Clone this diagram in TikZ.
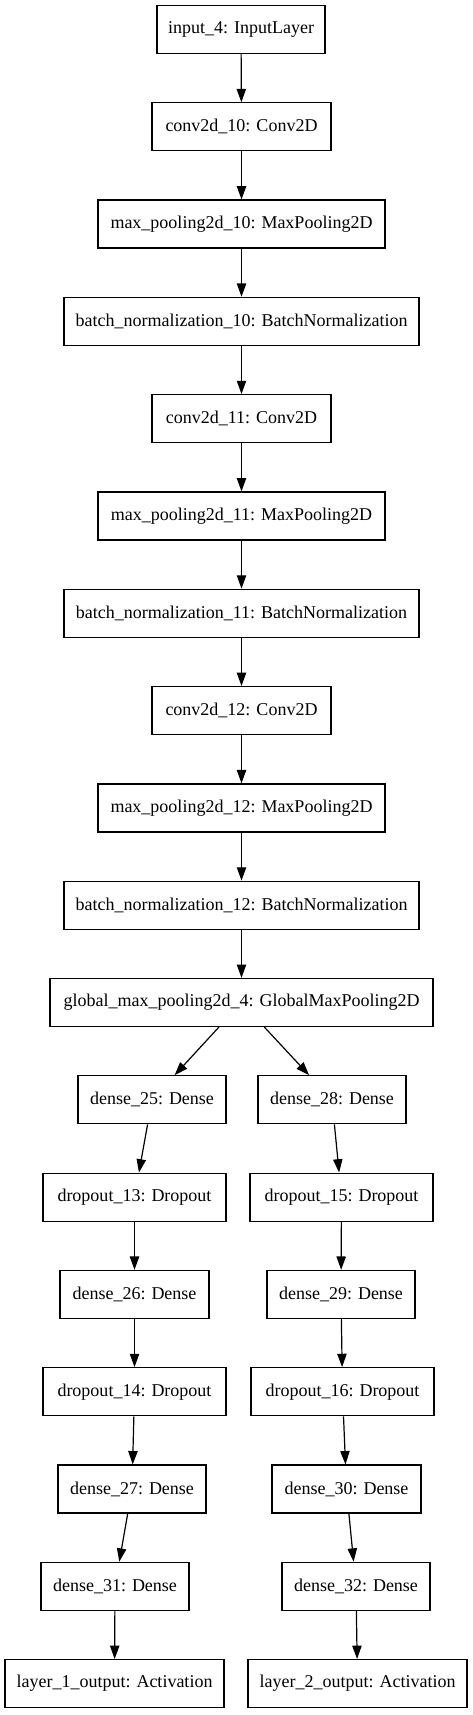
\documentclass[tikz,border=0pt]{standalone}
\usepackage{fontspec}
\setmainfont{Liberation Serif}
\usepackage{tikz}
\usetikzlibrary{arrows.meta, positioning}

\begin{document}
\begin{tikzpicture}[
  x=0.75pt, y=-0.75pt,
  layer/.style={
    rectangle, draw=black, line width=0.9pt, fill=white,
    minimum height=36pt, inner sep=0pt, align=center,
    font=\fontsize{13.5}{16}\selectfont,
  },
  boxw/.style={minimum width=#1*0.75pt},
  arrow/.style={-{Triangle[length=10pt, width=7pt]}, line width=0.9pt, color=black},
]
  \useasboundingbox (0,0) rectangle (472,1715);

  % shared trunk
  \node[layer, boxw=168] (input) at (241,29.5) {input\_4: InputLayer};
  \node[layer, boxw=179] (conva) at (241.5,126.8) {conv2d\_10: Conv2D};
  \node[layer, boxw=287] (poola) at (241.5,224.1) {max\_pooling2d\_10: MaxPooling2D};
  \node[layer, boxw=355] (norma) at (241.5,321.4) {batch\_normalization\_10: BatchNormalization};
  \node[layer, boxw=179] (convb) at (241.5,418.7) {conv2d\_11: Conv2D};
  \node[layer, boxw=287] (poolb) at (241.5,516.0) {max\_pooling2d\_11: MaxPooling2D};
  \node[layer, boxw=355] (normb) at (241.5,613.3) {batch\_normalization\_11: BatchNormalization};
  \node[layer, boxw=179] (convc) at (241.5,710.6) {conv2d\_12: Conv2D};
  \node[layer, boxw=287] (poolc) at (241.5,807.9) {max\_pooling2d\_12: MaxPooling2D};
  \node[layer, boxw=355] (normc) at (241.5,905.2) {batch\_normalization\_12: BatchNormalization};
  \node[layer, boxw=383] (gpool) at (241.5,1002.5) {global\_max\_pooling2d\_4: GlobalMaxPooling2D};

  % left head
  \node[layer, boxw=148] (densea) at (152,1099.8) {dense\_25: Dense};
  \node[layer, boxw=183] (dropa) at (134.5,1197.1) {dropout\_13: Dropout};
  \node[layer, boxw=149] (denseb) at (134.5,1294.4) {dense\_26: Dense};
  \node[layer, boxw=183] (dropb) at (134.5,1391.7) {dropout\_14: Dropout};
  \node[layer, boxw=148] (densec) at (132,1489.0) {dense\_27: Dense};
  \node[layer, boxw=148] (densed) at (115,1586.3) {dense\_31: Dense};
  \node[layer, boxw=219] (outa) at (114.5,1683.6) {layer\_1\_output: Activation};

  % right head
  \node[layer, boxw=148] (densee) at (332,1099.8) {dense\_28: Dense};
  \node[layer, boxw=183] (dropc) at (341.5,1197.1) {dropout\_15: Dropout};
  \node[layer, boxw=148] (densef) at (341,1294.4) {dense\_29: Dense};
  \node[layer, boxw=183] (dropd) at (342.5,1391.7) {dropout\_16: Dropout};
  \node[layer, boxw=149] (denseg) at (346.5,1489.0) {dense\_30: Dense};
  \node[layer, boxw=148] (denseh) at (356,1586.3) {dense\_32: Dense};
  \node[layer, boxw=219] (outb) at (357.5,1683.6) {layer\_2\_output: Activation};

  \foreach \a/\b in {input/conva, conva/poola, poola/norma, norma/convb, convb/poolb,
      poolb/normb, normb/convc, convc/poolc, poolc/normc, normc/gpool,
      gpool/densea, densea/dropa, dropa/denseb, denseb/dropb, dropb/densec, densec/densed, densed/outa,
      gpool/densee, densee/dropc, dropc/densef, densef/dropd, dropd/denseg, denseg/denseh, denseh/outb}
    \draw[arrow] (\a) -- (\b);
\end{tikzpicture}
\end{document}
